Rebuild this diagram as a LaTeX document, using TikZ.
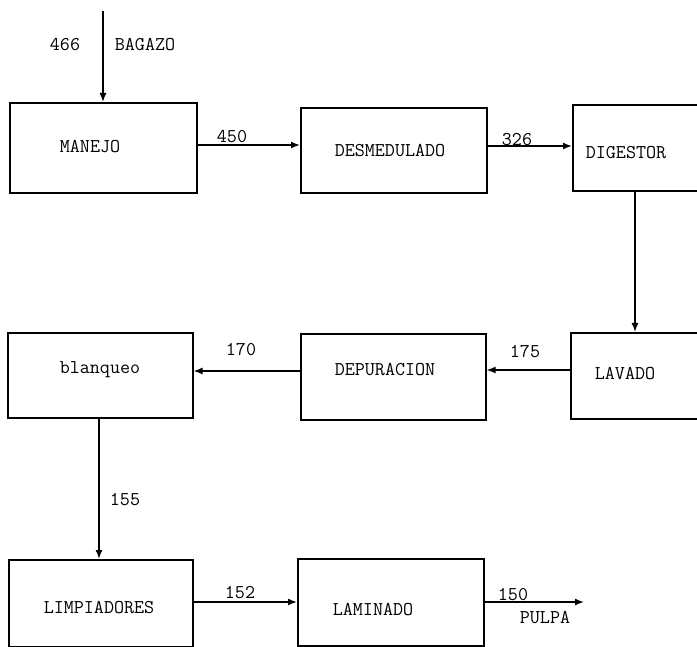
\documentclass[tikz,border=0pt]{standalone}
\usetikzlibrary{arrows.meta}
\begin{document}
\begin{tikzpicture}[x=1pt,y=-1pt,
  box/.style={draw,line width=1.6pt,rectangle,inner sep=0pt,anchor=north west},
  txt/.style={font=\ttfamily\fontsize{19.5}{22}\selectfont,inner sep=0pt},
  flow/.style={line width=1.4pt,-{Latex[length=9pt,width=7pt]}}]
\useasboundingbox (0,0) rectangle (697,647);
\clip (0,0) rectangle (697,647);
% boxes
\node[box,minimum width=187pt,minimum height=90pt] (manejo) at (9,102) {};
\node[box,minimum width=186pt,minimum height=85pt] (desm) at (300,107) {};
\node[box,minimum width=140pt,minimum height=86pt] (dig) at (572,104) {};
\node[box,minimum width=185pt,minimum height=85pt] (blan) at (7,332) {};
\node[box,minimum width=185pt,minimum height=86pt] (depu) at (300,333) {};
\node[box,minimum width=140pt,minimum height=86pt] (lav) at (570,332) {};
\node[box,minimum width=184pt,minimum height=87pt] (limp) at (8,559) {};
\node[box,minimum width=186pt,minimum height=87pt] (lam) at (297,558) {};
% box texts
\node[txt] (tmanejo) at (90,147) {MANEJO};
\node[txt] (tdesm) at (390,151) {DESMEDULADO};
\node[txt] (tdig) at (626,153) {DIGESTOR};
\node[txt] (tblan) at (100,370) {blanqueo};
\node[txt] (tdepu) at (385,370) {DEPURACION};
\node[txt] (tlav) at (625,374) {LAVADO};
\node[txt] (tlimp) at (99,608) {LIMPIADORES};
\node[txt] (tlam) at (373,610) {LAMINADO};
% free ends
\coordinate (in) at (103,11);
\coordinate (out) at (584,602);
% connectors
\draw[flow] (in) -- (in |- manejo.north);
\draw[flow] (manejo.east |- 0,145) -- (desm.west |- 0,145);
\draw[flow] (desm.east |- 0,146) -- (dig.west |- 0,146);
\draw[flow] (dig.south -| 635,0) -- (lav.north -| 635,0);
\draw[flow] (lav.west |- 0,370) -- (depu.east |- 0,370);
\draw[flow] (depu.west |- 0,371) -- (blan.east |- 0,371);
\draw[flow] (blan.south -| 99,0) -- (limp.north -| 99,0);
\draw[flow] (limp.east |- 0,602) -- (lam.west |- 0,602);
\draw[flow] (lam.east |- 0,602) -- (out);
% labels
\node[txt] (l466) at (65,45) {466};
\node[txt] (lbag) at (145,45) {BAGAZO};
\node[txt] (l450) at (232,137) {450};
\node[txt] (l326) at (517,140) {326};
\node[txt] (l175) at (525,352) {175};
\node[txt] (l170) at (241,350) {170};
\node[txt] (l155) at (125,500) {155};
\node[txt] (l152) at (240,593) {152};
\node[txt] (l150) at (513,595) {150};
\node[txt] (lpulpa) at (545,618) {PULPA};
\end{tikzpicture}
\end{document}
